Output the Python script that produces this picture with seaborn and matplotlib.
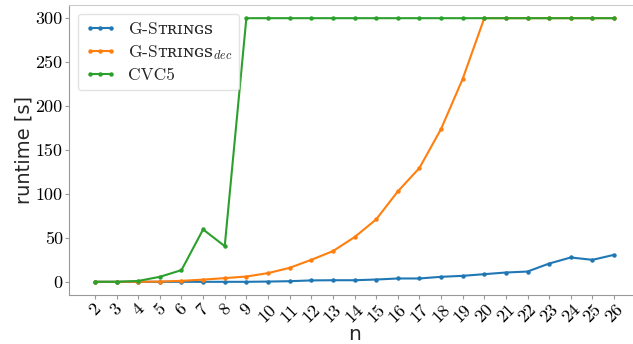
# runtime comparison chart
import numpy as np
import pandas as pd
import matplotlib
matplotlib.use("Agg")
import matplotlib.pyplot as plt
import seaborn as sns

# data
n_values = list(range(2, 27))
gstrings = [0, 0, 0, 0, 0, 0, 0, 0, 0.3, 0.7, 1.6, 1.8, 1.8, 2.6, 3.8, 3.8, 5.7, 6.8, 8.7, 10.6, 11.7, 20.8, 27.7, 25, 30.7]
gstrings_dec = [0, 0, 0, 0.3, 1.1, 2.5, 4.2, 6, 9.9, 15.9, 25, 34.9, 50.8, 71, 102.8, 129.5, 173.8, 230.8, 300, 300, 300, 300, 300, 300, 300]
cvc5 = [0, 0, 1, 5.7, 13.3, 59.6, 40.6, 300, 300, 300, 300, 300, 300, 300, 300, 300, 300, 300, 300, 300, 300, 300, 300, 300, 300]
# small caps via unicode small capital letters (rendered through \mathsf -> DejaVu Serif)
caps = "\u1d1b\u0280\u026a\u0274\u0262\ua731"
labels = ["G-S$\\mathsf{" + caps + "}$", "G-S$\\mathsf{" + caps + "}_{dec}$", "CVC5"]
colors = ["#1f77b4", "#ff7f0e", "#2ca02c"]

df = pd.DataFrame({"n": n_values * 3,
                   "runtime": gstrings + gstrings_dec + cvc5,
                   "solver": [labels[0]] * 25 + [labels[1]] * 25 + [labels[2]] * 25})

sns.set_style("ticks")
plt.rcParams["mathtext.fontset"] = "custom"
plt.rcParams["mathtext.rm"] = "cmr10"
plt.rcParams["mathtext.it"] = "cmmi10"
plt.rcParams["mathtext.sf"] = "DejaVu Serif"

fig = plt.figure(figsize=(6.33, 3.44), dpi=100)
ax = fig.add_axes([69 / 633, 49 / 344, 571 / 633, 290 / 344])

sns.lineplot(data=df, x="n", y="runtime", hue="solver", palette=colors,
             marker="o", markersize=3.2, markeredgewidth=0, linewidth=1.5, ax=ax)

ax.set_xticks(n_values)
ax.set_xticklabels([str(v) for v in n_values], rotation=45, fontfamily="cmr10", fontsize=13)
ax.set_yticks([0, 50, 100, 150, 200, 250, 300])
ax.set_yticklabels(["0", "50", "100", "150", "200", "250", "300"], fontfamily="cmr10", fontsize=13)
ax.set_ylim(-15, 315)
ax.set_xlim(0.8, 27.2)
ax.set_xlabel("n", fontsize=14.5, labelpad=0)
ax.set_ylabel("runtime [s]", fontsize=14)
ax.yaxis.set_label_coords(-0.062, 0.5)
for s in ax.spines.values():
    s.set_color("#999999")
ax.spines["top"].set_color("#cccccc")
ax.tick_params(colors="#999999", labelcolor="black", length=3, pad=1.5)

leg = ax.legend(loc="upper left", prop={"family": "cmr10", "size": 12.5},
                frameon=True, borderaxespad=0.5, labelspacing=0.35,
                handlelength=1.8, handletextpad=0.7, numpoints=3)
leg.get_frame().set_edgecolor("#dddddd")

fig.savefig("out.png", dpi=100)
